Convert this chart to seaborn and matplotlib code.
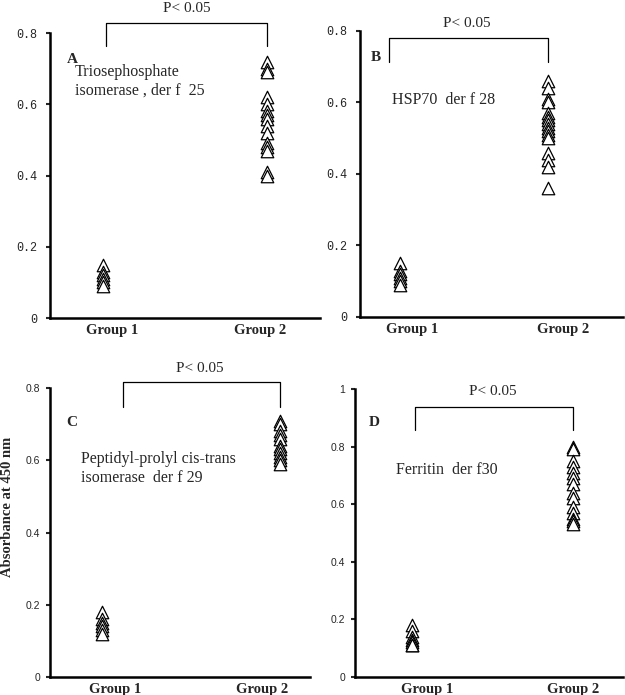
import pandas as pd
import numpy as np
import matplotlib
matplotlib.use("Agg")
import matplotlib.pyplot as plt
import seaborn as sns

# absorbance readings per panel (group 1 = controls, group 2 = patients)
a_g1 = [0.15, 0.13, 0.12, 0.11, 0.10, 0.09]
a_g2 = [0.72, 0.70, 0.69, 0.62, 0.60, 0.58, 0.57, 0.56, 0.54, 0.52,
        0.49, 0.48, 0.47, 0.41, 0.40]
b_g1 = [0.15, 0.13, 0.12, 0.11, 0.10, 0.09]
b_g2 = [0.66, 0.64, 0.61, 0.60, 0.57, 0.56, 0.55, 0.54, 0.53, 0.52,
        0.51, 0.50, 0.46, 0.44, 0.42, 0.36]
c_g1 = [0.18, 0.16, 0.15, 0.14, 0.13, 0.12]
c_g2 = [0.71, 0.70, 0.68, 0.67, 0.66, 0.64, 0.63, 0.62, 0.61, 0.60, 0.59]
d_g1 = [0.18, 0.16, 0.14, 0.13, 0.12, 0.11, 0.11]
d_g2 = [0.80, 0.79, 0.75, 0.73, 0.71, 0.69, 0.67, 0.64, 0.62, 0.59,
        0.57, 0.55, 0.54, 0.53]

groups = ["Group 1", "Group 2"]
letters = ["A", "B", "C", "D"]
proteins = ["Triosephosphate\nisomerase , der f  25",
            "HSP70  der f 28",
            "Peptidyl-prolyl cis-trans\nisomerase  der f 29",
            "Ferritin  der f30"]
ylims = [0.8, 0.8, 0.8, 1.0]
yticks = [[0, 0.2, 0.4, 0.6, 0.8], [0, 0.2, 0.4, 0.6, 0.8],
          [0, 0.2, 0.4, 0.6, 0.8], [0, 0.2, 0.4, 0.6, 0.8, 1]]
ytick_labels = [["0", "0.2", "0.4", "0.6", "0.8"], ["0", "0.2", "0.4", "0.6", "0.8"],
                ["0", "0.2", "0.4", "0.6", "0.8"], ["0", "0.2", "0.4", "0.6", "0.8", "1"]]

sns.set_style("white")
serif = ["Liberation Serif", "DejaVu Serif"]
plt.rcParams["font.family"] = serif

fig = plt.figure(figsize=(6.25, 6.95), dpi=100)

# axes rect, xlim, group label positions, bracket (x0, ybar, yleg), p-text,
# letter pos, protein text pos
layout = [
    dict(rect=[0.080, 0.5424, 0.432, 0.4101], xlim=(-0.323, 1.323), gx=[0.055, 0.96],
         br=(0.02, 0.828, 0.763), pt=(0.51, 0.868), let=(-0.22, 0.725), prot=(-0.17, 0.665),
         mono=True),
    dict(rect=[0.576, 0.5439, 0.421, 0.4115], xlim=(-0.27, 1.507), gx=[0.08, 1.10],
         br=(-0.074, 0.780, 0.713), pt=(0.45, 0.822), let=(-0.2, 0.725), prot=(-0.054, 0.607),
         mono=True),
    dict(rect=[0.080, 0.0259, 0.416, 0.4158], xlim=(-0.292, 1.169), gx=[0.073, 0.9],
         br=(0.118, 0.817, 0.747), pt=(0.55, 0.855), let=(-0.2, 0.705), prot=(-0.12, 0.576),
         mono=False),
    dict(rect=[0.568, 0.0259, 0.429, 0.4144], xlim=(-0.354, 1.31), gx=[0.093, 1.0],
         br=(0.02, 0.9375, 0.858), pt=(0.5, 0.99), let=(-0.27, 0.885), prot=(-0.1, 0.72),
         mono=False),
]

data = [(a_g1, a_g2), (b_g1, b_g2), (c_g1, c_g2), (d_g1, d_g2)]

for i, (g1, g2) in enumerate(data):
    cfg = layout[i]
    ax = fig.add_axes(cfg["rect"])
    df = pd.DataFrame({"group": [groups[0]] * len(g1) + [groups[1]] * len(g2),
                       "value": list(g1) + list(g2)})
    sns.stripplot(data=df, x="group", y="value", order=groups, jitter=False,
                  marker="^", s=9, color="white", edgecolor="black", linewidth=0.9,
                  ax=ax, zorder=3)
    ax.set_xlim(*cfg["xlim"])
    ax.set_ylim(0, ylims[i])
    ax.set_xlabel("")
    ax.set_ylabel("")
    for sp in ["top", "right"]:
        ax.spines[sp].set_visible(False)
    for sp in ["left", "bottom"]:
        ax.spines[sp].set_linewidth(1.8)
        ax.spines[sp].set_color("black")
    ax.set_yticks(yticks[i])
    if cfg["mono"]:
        ax.set_yticklabels(ytick_labels[i], family=["Liberation Mono", "DejaVu Sans Mono"],
                           fontsize=8.5)
        ypad = 6.5
    else:
        ax.set_yticklabels(ytick_labels[i], family=["Liberation Sans Narrow", "Liberation Sans"],
                           fontsize=7.5)
        ypad = 4
    ax.tick_params(axis="y", which="both", left=True, length=3, width=1.5, pad=ypad,
                   direction="out")
    ax.tick_params(axis="x", bottom=False, pad=0.5)
    ax.set_xticks(cfg["gx"])
    ax.set_xticklabels(groups, fontweight="bold", fontsize=10.5, family=serif)

    # significance bracket
    x0, ybar, yleg = cfg["br"]
    ax.plot([x0, x0, 1, 1], [yleg, ybar, ybar, yleg], color="black", lw=0.9,
            clip_on=False)
    ax.text(cfg["pt"][0], cfg["pt"][1], "P< 0.05", ha="center", va="center",
            fontsize=11, family=serif)
    ax.text(cfg["let"][0], cfg["let"][1], letters[i], ha="left", va="center",
            fontsize=11, fontweight="bold", family=serif)
    ax.text(cfg["prot"][0], cfg["prot"][1], proteins[i], ha="left", va="center",
            fontsize=11.5, family=serif, linespacing=1.25)

    if i == 2:
        ax.set_ylabel("Absorbance at 450 nm", fontweight="bold", fontsize=10.5,
                      family=serif)
        ax.yaxis.set_label_coords(-0.14, 0.59)

fig.savefig("out.png", dpi=100)
